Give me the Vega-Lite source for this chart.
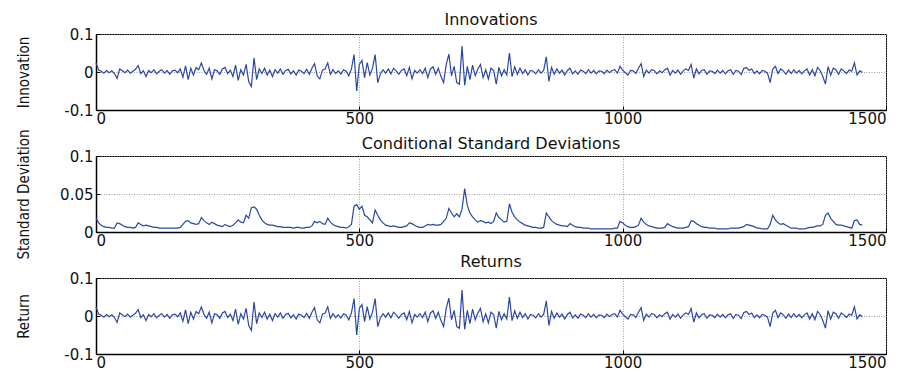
{
"$schema": "https://vega.github.io/schema/vega-lite/v6.json",
"autosize": {"type": "pad"},
"padding": {"left": 15, "top": 11, "right": 0, "bottom": 0},
"background": "#ffffff",
"bounds": "flush",
"spacing": 46,
"config": {
  "view": {"stroke": "#000000", "strokeWidth": 1},
  "axis": {"labelFont": "DejaVu Sans", "labelFontSize": 15, "labelColor": "#111111", "domainColor": "#000000", "domainWidth": 1.5, "tickColor": "#000000", "tickSize": -4, "labelPadding": 5, "gridColor": "#8c8c8c", "gridDash": [1, 1.5], "gridWidth": 0.8, "gridOpacity": 1},
  "axisY": {"labelPadding": 7},
  "title": {"font": "DejaVu Sans", "fontSize": 16, "fontWeight": "normal", "color": "#111111", "anchor": "middle", "offset": 0}
},
"data": {"values": [
{"t":0,"i":0.024,"s":0.018},{"t":5,"i":0.005,"s":0.012},{"t":10,"i":0.002,"s":0.009},{"t":15,"i":-0.003,"s":0.007},{"t":20,"i":0.004,"s":0.006},{"t":25,"i":-0.002,"s":0.006},{"t":30,"i":0.003,"s":0.005},{"t":35,"i":-0.004,"s":0.005},{"t":40,"i":-0.017,"s":0.012},{"t":45,"i":0.008,"s":0.011},
{"t":50,"i":0.003,"s":0.009},{"t":55,"i":-0.002,"s":0.007},{"t":60,"i":0.005,"s":0.006},{"t":65,"i":-0.003,"s":0.006},{"t":70,"i":0.002,"s":0.005},{"t":75,"i":0.007,"s":0.006},{"t":80,"i":0.017,"s":0.012},{"t":85,"i":-0.004,"s":0.010},{"t":90,"i":0.003,"s":0.008},{"t":95,"i":-0.012,"s":0.009},
{"t":100,"i":0.004,"s":0.008},{"t":105,"i":-0.002,"s":0.007},{"t":110,"i":0.006,"s":0.006},{"t":115,"i":-0.005,"s":0.006},{"t":120,"i":0.002,"s":0.005},{"t":125,"i":0.006,"s":0.005},{"t":130,"i":-0.003,"s":0.005},{"t":135,"i":0.004,"s":0.005},{"t":140,"i":-0.006,"s":0.005},{"t":145,"i":0.003,"s":0.005},
{"t":150,"i":0.005,"s":0.005},{"t":155,"i":-0.002,"s":0.005},{"t":160,"i":0.008,"s":0.006},{"t":165,"i":-0.014,"s":0.010},{"t":170,"i":0.016,"s":0.014},{"t":175,"i":-0.020,"s":0.015},{"t":180,"i":0.010,"s":0.012},{"t":185,"i":-0.008,"s":0.011},{"t":190,"i":0.012,"s":0.010},{"t":195,"i":0.006,"s":0.011},
{"t":200,"i":0.024,"s":0.019},{"t":205,"i":0.004,"s":0.015},{"t":210,"i":-0.006,"s":0.012},{"t":215,"i":0.010,"s":0.010},{"t":220,"i":-0.018,"s":0.013},{"t":225,"i":0.006,"s":0.011},{"t":230,"i":0.003,"s":0.009},{"t":235,"i":-0.006,"s":0.008},{"t":240,"i":0.008,"s":0.007},{"t":245,"i":0.012,"s":0.010},
{"t":250,"i":-0.004,"s":0.008},{"t":255,"i":0.005,"s":0.007},{"t":260,"i":-0.012,"s":0.009},{"t":265,"i":0.018,"s":0.012},{"t":270,"i":-0.022,"s":0.016},{"t":275,"i":0.006,"s":0.013},{"t":280,"i":-0.008,"s":0.012},{"t":285,"i":0.020,"s":0.022},{"t":290,"i":-0.025,"s":0.018},{"t":295,"i":-0.038,"s":0.032},
{"t":300,"i":0.037,"s":0.033},{"t":305,"i":-0.020,"s":0.030},{"t":310,"i":0.008,"s":0.022},{"t":315,"i":-0.004,"s":0.016},{"t":320,"i":0.010,"s":0.012},{"t":325,"i":-0.008,"s":0.010},{"t":330,"i":0.005,"s":0.009},{"t":335,"i":-0.012,"s":0.009},{"t":340,"i":0.006,"s":0.008},{"t":345,"i":-0.003,"s":0.007},
{"t":350,"i":0.008,"s":0.007},{"t":355,"i":-0.006,"s":0.006},{"t":360,"i":0.004,"s":0.006},{"t":365,"i":0.007,"s":0.006},{"t":370,"i":-0.005,"s":0.006},{"t":375,"i":0.003,"s":0.005},{"t":380,"i":-0.008,"s":0.006},{"t":385,"i":0.005,"s":0.006},{"t":390,"i":0.002,"s":0.005},{"t":395,"i":-0.004,"s":0.005},
{"t":400,"i":0.007,"s":0.006},{"t":405,"i":-0.006,"s":0.006},{"t":410,"i":0.010,"s":0.008},{"t":415,"i":0.022,"s":0.014},{"t":420,"i":-0.010,"s":0.012},{"t":425,"i":-0.018,"s":0.014},{"t":430,"i":0.005,"s":0.011},{"t":435,"i":0.008,"s":0.010},{"t":440,"i":0.024,"s":0.018},{"t":445,"i":-0.006,"s":0.013},
{"t":450,"i":0.006,"s":0.010},{"t":455,"i":-0.004,"s":0.008},{"t":460,"i":0.003,"s":0.007},{"t":465,"i":-0.005,"s":0.006},{"t":470,"i":0.006,"s":0.006},{"t":475,"i":0.002,"s":0.005},{"t":480,"i":-0.010,"s":0.007},{"t":485,"i":0.008,"s":0.010},{"t":490,"i":0.046,"s":0.034},{"t":495,"i":-0.050,"s":0.036},
{"t":500,"i":0.020,"s":0.030},{"t":505,"i":0.030,"s":0.034},{"t":510,"i":-0.015,"s":0.022},{"t":515,"i":0.025,"s":0.020},{"t":520,"i":-0.008,"s":0.016},{"t":525,"i":0.010,"s":0.012},{"t":530,"i":0.046,"s":0.029},{"t":535,"i":-0.028,"s":0.022},{"t":540,"i":-0.005,"s":0.016},{"t":545,"i":0.006,"s":0.012},
{"t":550,"i":-0.003,"s":0.009},{"t":555,"i":0.008,"s":0.008},{"t":560,"i":-0.005,"s":0.007},{"t":565,"i":0.010,"s":0.008},{"t":570,"i":0.003,"s":0.007},{"t":575,"i":-0.006,"s":0.006},{"t":580,"i":0.004,"s":0.006},{"t":585,"i":0.008,"s":0.007},{"t":590,"i":-0.010,"s":0.008},{"t":595,"i":0.012,"s":0.012},
{"t":600,"i":-0.018,"s":0.011},{"t":605,"i":0.004,"s":0.009},{"t":610,"i":-0.003,"s":0.007},{"t":615,"i":0.006,"s":0.006},{"t":620,"i":-0.004,"s":0.006},{"t":625,"i":0.010,"s":0.008},{"t":630,"i":-0.015,"s":0.010},{"t":635,"i":0.008,"s":0.009},{"t":640,"i":0.014,"s":0.010},{"t":645,"i":-0.006,"s":0.009},
{"t":650,"i":0.010,"s":0.009},{"t":655,"i":-0.012,"s":0.010},{"t":660,"i":-0.028,"s":0.014},{"t":665,"i":0.020,"s":0.018},{"t":670,"i":0.047,"s":0.031},{"t":675,"i":-0.010,"s":0.025},{"t":680,"i":0.015,"s":0.020},{"t":685,"i":-0.028,"s":0.024},{"t":690,"i":-0.032,"s":0.020},{"t":695,"i":0.068,"s":0.030},
{"t":700,"i":-0.035,"s":0.057},{"t":705,"i":0.015,"s":0.035},{"t":710,"i":-0.020,"s":0.025},{"t":715,"i":0.018,"s":0.020},{"t":720,"i":-0.010,"s":0.016},{"t":725,"i":0.008,"s":0.013},{"t":730,"i":0.020,"s":0.015},{"t":735,"i":-0.015,"s":0.014},{"t":740,"i":0.006,"s":0.012},{"t":745,"i":-0.018,"s":0.013},
{"t":750,"i":0.010,"s":0.011},{"t":755,"i":0.004,"s":0.014},{"t":760,"i":-0.032,"s":0.025},{"t":765,"i":0.012,"s":0.019},{"t":770,"i":-0.010,"s":0.016},{"t":775,"i":0.006,"s":0.013},{"t":780,"i":-0.008,"s":0.014},{"t":785,"i":0.050,"s":0.037},{"t":790,"i":-0.012,"s":0.026},{"t":795,"i":0.014,"s":0.020},
{"t":800,"i":-0.006,"s":0.016},{"t":805,"i":0.010,"s":0.013},{"t":810,"i":-0.004,"s":0.011},{"t":815,"i":0.006,"s":0.009},{"t":820,"i":-0.008,"s":0.008},{"t":825,"i":0.004,"s":0.007},{"t":830,"i":0.002,"s":0.006},{"t":835,"i":-0.005,"s":0.006},{"t":840,"i":0.006,"s":0.005},{"t":845,"i":-0.003,"s":0.005},
{"t":850,"i":0.004,"s":0.006},{"t":855,"i":0.040,"s":0.025},{"t":860,"i":-0.025,"s":0.020},{"t":865,"i":0.012,"s":0.015},{"t":870,"i":-0.006,"s":0.012},{"t":875,"i":0.008,"s":0.010},{"t":880,"i":-0.003,"s":0.009},{"t":885,"i":0.005,"s":0.008},{"t":890,"i":-0.008,"s":0.008},{"t":895,"i":0.004,"s":0.007},
{"t":900,"i":0.010,"s":0.011},{"t":905,"i":-0.005,"s":0.009},{"t":910,"i":0.003,"s":0.007},{"t":915,"i":-0.006,"s":0.006},{"t":920,"i":0.005,"s":0.006},{"t":925,"i":0.002,"s":0.005},{"t":930,"i":-0.004,"s":0.005},{"t":935,"i":0.006,"s":0.005},{"t":940,"i":-0.003,"s":0.004},{"t":945,"i":0.004,"s":0.004},
{"t":950,"i":-0.005,"s":0.004},{"t":955,"i":0.003,"s":0.004},{"t":960,"i":0.002,"s":0.004},{"t":965,"i":-0.004,"s":0.004},{"t":970,"i":0.005,"s":0.004},{"t":975,"i":-0.002,"s":0.004},{"t":980,"i":0.004,"s":0.004},{"t":985,"i":0.006,"s":0.005},{"t":990,"i":-0.003,"s":0.005},{"t":995,"i":0.015,"s":0.014},
{"t":1000,"i":0.005,"s":0.012},{"t":1005,"i":-0.002,"s":0.009},{"t":1010,"i":-0.008,"s":0.007},{"t":1015,"i":0.004,"s":0.006},{"t":1020,"i":0.003,"s":0.006},{"t":1025,"i":-0.004,"s":0.007},{"t":1030,"i":0.010,"s":0.009},{"t":1035,"i":0.022,"s":0.018},{"t":1040,"i":-0.012,"s":0.013},{"t":1045,"i":0.005,"s":0.010},
{"t":1050,"i":-0.003,"s":0.008},{"t":1055,"i":0.006,"s":0.007},{"t":1060,"i":0.004,"s":0.006},{"t":1065,"i":-0.005,"s":0.005},{"t":1070,"i":0.003,"s":0.005},{"t":1075,"i":-0.002,"s":0.005},{"t":1080,"i":0.006,"s":0.006},{"t":1085,"i":0.010,"s":0.011},{"t":1090,"i":-0.008,"s":0.009},{"t":1095,"i":0.004,"s":0.007},
{"t":1100,"i":-0.003,"s":0.006},{"t":1105,"i":0.005,"s":0.005},{"t":1110,"i":-0.006,"s":0.005},{"t":1115,"i":0.003,"s":0.005},{"t":1120,"i":0.008,"s":0.006},{"t":1125,"i":0.004,"s":0.007},{"t":1130,"i":0.020,"s":0.015},{"t":1135,"i":-0.016,"s":0.014},{"t":1140,"i":0.008,"s":0.011},{"t":1145,"i":-0.005,"s":0.009},
{"t":1150,"i":0.004,"s":0.007},{"t":1155,"i":0.006,"s":0.006},{"t":1160,"i":-0.006,"s":0.006},{"t":1165,"i":0.003,"s":0.005},{"t":1170,"i":0.002,"s":0.005},{"t":1175,"i":-0.004,"s":0.005},{"t":1180,"i":0.005,"s":0.004},{"t":1185,"i":-0.003,"s":0.004},{"t":1190,"i":0.004,"s":0.004},{"t":1195,"i":-0.005,"s":0.004},
{"t":1200,"i":0.003,"s":0.004},{"t":1205,"i":0.006,"s":0.005},{"t":1210,"i":-0.006,"s":0.005},{"t":1215,"i":0.004,"s":0.005},{"t":1220,"i":0.002,"s":0.005},{"t":1225,"i":-0.007,"s":0.006},{"t":1230,"i":0.009,"s":0.007},{"t":1235,"i":0.012,"s":0.010},{"t":1240,"i":0.004,"s":0.009},{"t":1245,"i":0.008,"s":0.008},
{"t":1250,"i":-0.004,"s":0.007},{"t":1255,"i":0.003,"s":0.005},{"t":1260,"i":-0.005,"s":0.005},{"t":1265,"i":0.004,"s":0.004},{"t":1270,"i":0.002,"s":0.004},{"t":1275,"i":-0.003,"s":0.004},{"t":1280,"i":-0.028,"s":0.010},{"t":1285,"i":0.008,"s":0.022},{"t":1290,"i":0.015,"s":0.016},{"t":1295,"i":-0.004,"s":0.012},
{"t":1300,"i":0.008,"s":0.010},{"t":1305,"i":0.003,"s":0.011},{"t":1310,"i":-0.006,"s":0.009},{"t":1315,"i":0.005,"s":0.007},{"t":1320,"i":-0.004,"s":0.005},{"t":1325,"i":0.006,"s":0.005},{"t":1330,"i":-0.003,"s":0.005},{"t":1335,"i":0.004,"s":0.004},{"t":1340,"i":-0.005,"s":0.004},{"t":1345,"i":0.003,"s":0.004},
{"t":1350,"i":0.008,"s":0.005},{"t":1355,"i":-0.008,"s":0.006},{"t":1360,"i":0.006,"s":0.006},{"t":1365,"i":-0.010,"s":0.007},{"t":1370,"i":0.012,"s":0.008},{"t":1375,"i":0.004,"s":0.008},{"t":1380,"i":-0.012,"s":0.010},{"t":1385,"i":-0.032,"s":0.022},{"t":1390,"i":0.014,"s":0.025},{"t":1395,"i":-0.008,"s":0.018},
{"t":1400,"i":0.010,"s":0.014},{"t":1405,"i":0.006,"s":0.010},{"t":1410,"i":-0.006,"s":0.009},{"t":1415,"i":0.008,"s":0.009},{"t":1420,"i":0.003,"s":0.008},{"t":1425,"i":-0.004,"s":0.007},{"t":1430,"i":0.005,"s":0.006},{"t":1435,"i":0.002,"s":0.005},{"t":1440,"i":0.024,"s":0.015},{"t":1445,"i":-0.008,"s":0.016},
{"t":1450,"i":0.003,"s":0.010},{"t":1455,"i":-0.001,"s":0.009}
]},
"vconcat": [
  {
    "title": {"text": "Innovations", "dy": 5},
    "width": 790, "height": 76,
    "mark": {"type": "line", "color": "#2b47a6", "strokeWidth": 1.2},
    "encoding": {
      "x": {"field": "t", "type": "quantitative", "scale": {"domain": [0, 1500], "nice": false, "zero": false},
            "axis": {"values": [0, 500, 1000, 1500], "format": "d", "title": null, "grid": true}},
      "y": {"field": "i", "type": "quantitative", "scale": {"domain": [-0.1, 0.1], "nice": false},
            "axis": {"values": [-0.1, 0, 0.1], "labelExpr": "toString(datum.value)", "grid": true, "title": "Innovation",
                     "titleFont": "Liberation Sans Narrow, DejaVu Sans Condensed, Roboto Condensed, Liberation Sans", "titleFontSize": 15, "titleFontWeight": "normal", "titleColor": "#111111",
                     "titleAngle": -90, "titleX": -73, "titleY": 38, "titleAlign": "center", "titleBaseline": "middle"}}
    }
  },
  {
    "title": {"text": "Conditional Standard Deviations", "dy": 27},
    "width": 790, "height": 76,
    "mark": {"type": "line", "color": "#2b47a6", "strokeWidth": 1.2},
    "encoding": {
      "x": {"field": "t", "type": "quantitative", "scale": {"domain": [0, 1500], "nice": false, "zero": false},
            "axis": {"values": [0, 500, 1000, 1500], "format": "d", "title": null, "grid": true}},
      "y": {"field": "s", "type": "quantitative", "scale": {"domain": [0, 0.1], "nice": false},
            "axis": {"values": [0, 0.05, 0.1], "labelExpr": "toString(datum.value)", "grid": true, "title": "Standard Deviation",
                     "titleFont": "Liberation Sans Narrow, DejaVu Sans Condensed, Roboto Condensed, Liberation Sans", "titleFontSize": 15, "titleFontWeight": "normal", "titleColor": "#111111",
                     "titleAngle": -90, "titleX": -73, "titleY": 38, "titleAlign": "center", "titleBaseline": "middle"}}
    }
  },
  {
    "title": {"text": "Returns", "dy": 3},
    "width": 790, "height": 76,
    "mark": {"type": "line", "color": "#2b47a6", "strokeWidth": 1.2},
    "encoding": {
      "x": {"field": "t", "type": "quantitative", "scale": {"domain": [0, 1500], "nice": false, "zero": false},
            "axis": {"values": [0, 500, 1000, 1500], "format": "d", "title": null, "grid": true}},
      "y": {"field": "i", "type": "quantitative", "scale": {"domain": [-0.1, 0.1], "nice": false},
            "axis": {"values": [-0.1, 0, 0.1], "labelExpr": "toString(datum.value)", "grid": true, "title": "Return",
                     "titleFont": "Liberation Sans Narrow, DejaVu Sans Condensed, Roboto Condensed, Liberation Sans", "titleFontSize": 15, "titleFontWeight": "normal", "titleColor": "#111111",
                     "titleAngle": -90, "titleX": -73, "titleY": 38, "titleAlign": "center", "titleBaseline": "middle"}}
    }
  }
]
}
